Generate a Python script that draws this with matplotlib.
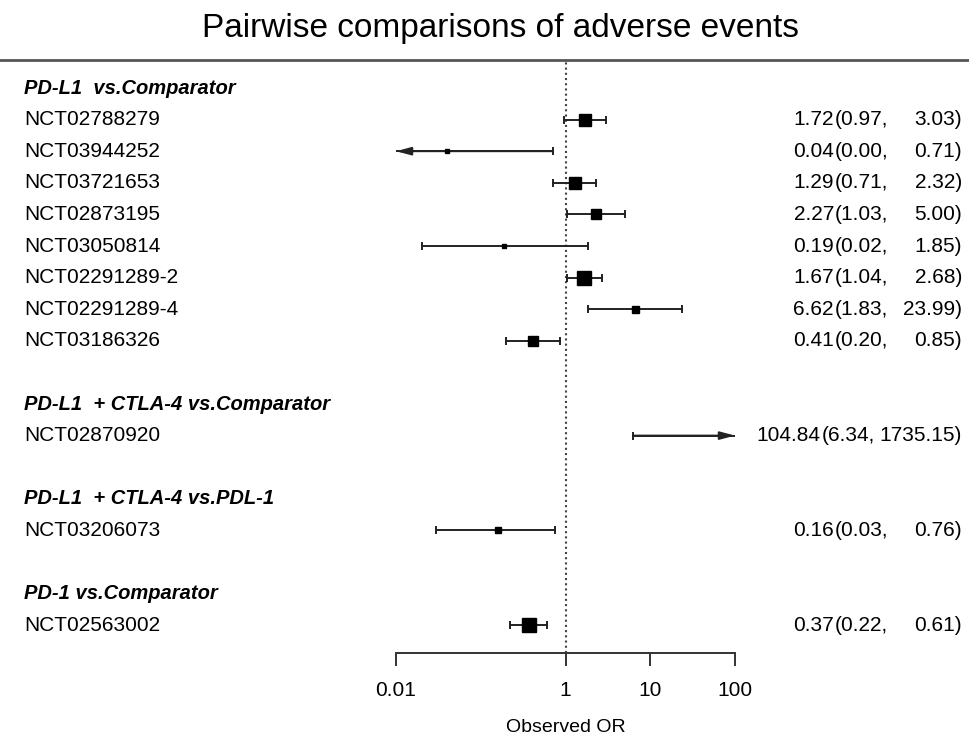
import matplotlib
matplotlib.use("Agg")
import matplotlib.pyplot as plt
import matplotlib.transforms as mtransforms

plt.rcParams['font.family'] = ['Liberation Sans', 'DejaVu Sans']

# data
group_names = ["PD-L1  vs.Comparator", "PD-L1  + CTLA-4 vs.Comparator",
               "PD-L1  + CTLA-4 vs.PDL-1", "PD-1 vs.Comparator"]
group_sizes = [8, 1, 1, 1]
studies = ["NCT02788279", "NCT03944252", "NCT03721653", "NCT02873195",
           "NCT03050814", "NCT02291289-2", "NCT02291289-4", "NCT03186326",
           "NCT02870920", "NCT03206073", "NCT02563002"]
odds_ratio = [1.72, 0.04, 1.29, 2.27, 0.19, 1.67, 6.62, 0.41, 104.84, 0.16, 0.37]
ci_low = [0.97, 0.00, 0.71, 1.03, 0.02, 1.04, 1.83, 0.20, 6.34, 0.03, 0.22]
ci_high = [3.03, 0.71, 2.32, 5.00, 1.85, 2.68, 23.99, 0.85, 1735.15, 0.76, 0.61]
box_weight = [12.7, 5, 12.3, 10, 5, 14.7, 7, 10.7, 6, 6, 13.7]

xmin, xmax = 0.01, 100
W, H = 969, 742
line_col = '#222222'

fig = plt.figure(figsize=(W / 100, H / 100), dpi=100)

# axes area in pixels
ax_left, ax_right, ax_top, ax_bottom = 396, 735, 62, 653
row0, row_step = 88, 31.6
ax = fig.add_axes([ax_left / W, 1 - ax_bottom / H, (ax_right - ax_left) / W, (ax_bottom - ax_top) / H])
ax.set_xscale('log')
ax.set_xlim(xmin, xmax)
ax.set_ylim((ax_bottom - row0) / row_step, (ax_top - row0) / row_step)

# row layout: header, studies, blank
header_rows = []
study_rows = []
k = 0
for n in group_sizes:
    header_rows.append(k)
    study_rows.extend(range(k + 1, k + 1 + n))
    k += n + 2

label_tr = mtransforms.blended_transform_factory(fig.transFigure, ax.transData)
fs = 15

for name, r in zip(group_names, header_rows):
    ax.text(24 / W, r, name, transform=label_tr, ha='left', va='center',
            fontsize=fs - 0.5, fontweight='bold', fontstyle='italic', clip_on=False)

for i, r in enumerate(study_rows):
    ax.text(24 / W, r, studies[i], transform=label_tr, ha='left', va='center',
            fontsize=fs, clip_on=False)

    lo, hi, est = ci_low[i], ci_high[i], odds_ratio[i]
    lo_c = max(lo, xmin)
    hi_c = min(hi, xmax)
    ax.plot([lo_c, hi_c], [r, r], color=line_col, lw=1.4, zorder=2)
    arrow = dict(arrowstyle="-|>,head_length=0.45,head_width=0.12", mutation_scale=20,
                 lw=1.4, color=line_col, shrinkA=0, shrinkB=0)
    if lo < xmin:
        ax.annotate("", xy=(xmin, r), xytext=(hi_c, r), arrowprops=arrow, annotation_clip=False)
    else:
        ax.plot([lo_c], [r], marker='|', ms=5.5, mew=1.4, color=line_col)
    if hi > xmax:
        ax.annotate("", xy=(xmax, r), xytext=(lo_c, r), arrowprops=arrow, annotation_clip=False)
    else:
        ax.plot([hi_c], [r], marker='|', ms=5.5, mew=1.4, color=line_col)
    if xmin <= est <= xmax:
        ax.plot([est], [r], marker='s', ms=box_weight[i] * 0.72, color='black', mec='black', zorder=3)

# right-hand OR (CI) column
fig.canvas.draw()
renderer = fig.canvas.get_renderer()
num_tr = label_tr
for i, r in enumerate(study_rows):
    t_hi = ax.text(962 / W, r, f"{ci_high[i]:.2f})", transform=num_tr, ha='right', va='center',
                   fontsize=fs, clip_on=False)
    t_lo = ax.text(835 / W, r, f"({ci_low[i]:.2f},", transform=num_tr, ha='left', va='center',
                   fontsize=fs, clip_on=False)
    bb_hi = t_hi.get_window_extent(renderer)
    bb_lo = t_lo.get_window_extent(renderer)
    lo_left = 835
    if bb_lo.x1 + 8 > bb_hi.x0:
        lo_left = bb_hi.x0 - 5 - bb_lo.width
        t_lo.set_x(lo_left / W)
    ax.text((lo_left - 1) / W, r, f"{odds_ratio[i]:.2f}", transform=num_tr, ha='right', va='center',
            fontsize=fs, clip_on=False)

# reference line at OR = 1
ax.axvline(1, color='#444444', lw=1.5, ls=(0, (1, 1.5)), zorder=1)

for s in ['top', 'left', 'right']:
    ax.spines[s].set_visible(False)
ax.spines['bottom'].set_color('#333333')
ax.spines['bottom'].set_linewidth(1.4)
ax.set_yticks([])
ax.set_xticks([0.01, 1, 10, 100])
ax.set_xticklabels(['0.01', '1', '10', '100'])
ax.minorticks_off()
ax.tick_params(axis='x', length=9, width=1.4, color='#333333', labelsize=15, pad=11)
ax.set_xlabel('Observed OR', fontsize=14, labelpad=14)

fig.text(500 / W, 1 - 29 / H, 'Pairwise comparisons of adverse events',
         ha='center', va='center', fontsize=24)
fig.add_artist(plt.Line2D([0, 1], [1 - 60 / H, 1 - 60 / H], transform=fig.transFigure,
                          color='#555555', lw=2))

fig.savefig('out.png', dpi=100)
